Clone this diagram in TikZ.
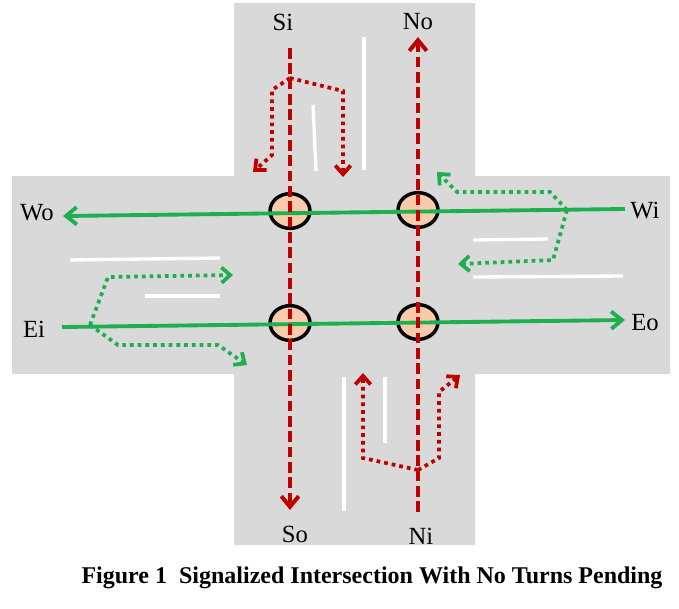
\documentclass[tikz,border=0pt]{standalone}
\usepackage{fontspec}
\setmainfont{Liberation Serif}
\usetikzlibrary{arrows.meta,shapes.geometric}
\definecolor{roadgray}{HTML}{D9D9D9}
\definecolor{darkred}{HTML}{C00000}
\definecolor{signalgreen}{HTML}{1EAF50}
\definecolor{peach}{HTML}{F8CBAD}
\begin{document}
\begin{tikzpicture}[x=0.75pt,y=-0.75pt,
  lbl/.style={font=\fontsize{18.5}{20}\selectfont, inner sep=0pt},
  conflict/.style={ellipse, draw=black, line width=2.6pt, fill=peach, minimum width=30pt, minimum height=26pt, inner sep=0pt},
  throughred/.style={darkred, line width=3pt, dash pattern=on 8pt off 3.5pt, -{Straight Barb[length=8pt,width=13pt]}},
  throughgreen/.style={signalgreen, line width=2.9pt, -{Straight Barb[length=8pt,width=13pt]}},
  turnred/.style={darkred, line width=2.8pt, dash pattern=on 2.8pt off 3pt, -{Straight Barb[length=6.5pt,width=11.5pt]}},
  turngreen/.style={signalgreen, line width=2.8pt, dash pattern=on 2.8pt off 3pt, -{Straight Barb[length=6.5pt,width=11.5pt]}},
  lane/.style={white, line width=2.5pt}]
\useasboundingbox (0,0) rectangle (679,608);
\fill[white] (0,0) rectangle (679,608);
% road
\fill[roadgray] (234,3) -- (475,3) -- (475,176) -- (670,176) -- (670,374) -- (475,374) -- (475,545) -- (234,545) -- (234,374) -- (12,374) -- (12,176) -- (234,176) -- cycle;
% lane markings
\draw[lane] (364,37) -- (364,170);
\draw[lane] (313,105) -- (316,171);
\draw[lane] (70,260) -- (220,258);
\draw[lane] (145,296) -- (220,296);
\draw[lane] (473,240) -- (548,239);
\draw[lane] (473,277) -- (623,276);
\draw[lane] (344,377) -- (344,511);
\draw[lane] (385,377) -- (385,443);
% labels
\node[lbl] (Si) at (283,22) {Si};
\node[lbl] (No) at (418,22) {No};
\node[lbl] (Wo) at (37,213) {Wo};
\node[lbl] (Wi) at (645,211) {Wi};
\node[lbl] (Ei) at (34,329) {Ei};
\node[lbl] (Eo) at (645,323) {Eo};
\node[lbl] (So) at (295,534) {So};
\node[lbl] (Ni) at (421,536) {Ni};
% conflict points
\node[conflict] (c1) at (290,211) {};
\node[conflict] (c2) at (418,210) {};
\node[conflict] (c3) at (290,323) {};
\node[conflict] (c4) at (418,322) {};
% endpoints
\coordinate (sStart) at (290,48);
\coordinate (sEnd) at (290,510);
\coordinate (nStart) at (418,512);
\coordinate (nEnd) at (418,37);
\coordinate (wStart) at (625,209);
\coordinate (wEnd) at (63,216);
\coordinate (eStart) at (62,327);
\coordinate (eEnd) at (625,320);
\coordinate (sBranch) at (290,78);
\coordinate (nBranch) at (418,470);
\coordinate (eBranch) at (90,325);
\coordinate (wBranch) at (567,210);
% through movements
\draw[throughgreen] (wStart) -- (wEnd);
\draw[throughgreen] (eStart) -- (eEnd);
\draw[throughred] (sStart) -- (sEnd);
\draw[throughred] (nStart) -- (nEnd);
% turning movements
\draw[turnred] (sBranch) -- (272,90) -- (272,155) -- (253,172);
\draw[turnred] (sBranch) -- (343,91) -- (343,177);
\draw[turnred] (nBranch) -- (363,458) -- (363,373);
\draw[turnred] (nBranch) -- (439,458) -- (439,392) -- (460,375);
\draw[turngreen] (eBranch) -- (108,277) -- (233,275);
\draw[turngreen] (eBranch) -- (118,345) -- (218,345) -- (247,365);
\draw[turngreen] (wBranch) -- (550,192) -- (457,192) -- (437,172);
\draw[turngreen] (wBranch) -- (553,260) -- (458,264);
% caption
\node[font=\bfseries\fontsize{18}{20}\selectfont, inner sep=0pt] (cap) at (372,578) {Figure 1\ \ Signalized Intersection With No Turns Pending};
\end{tikzpicture}
\end{document}
